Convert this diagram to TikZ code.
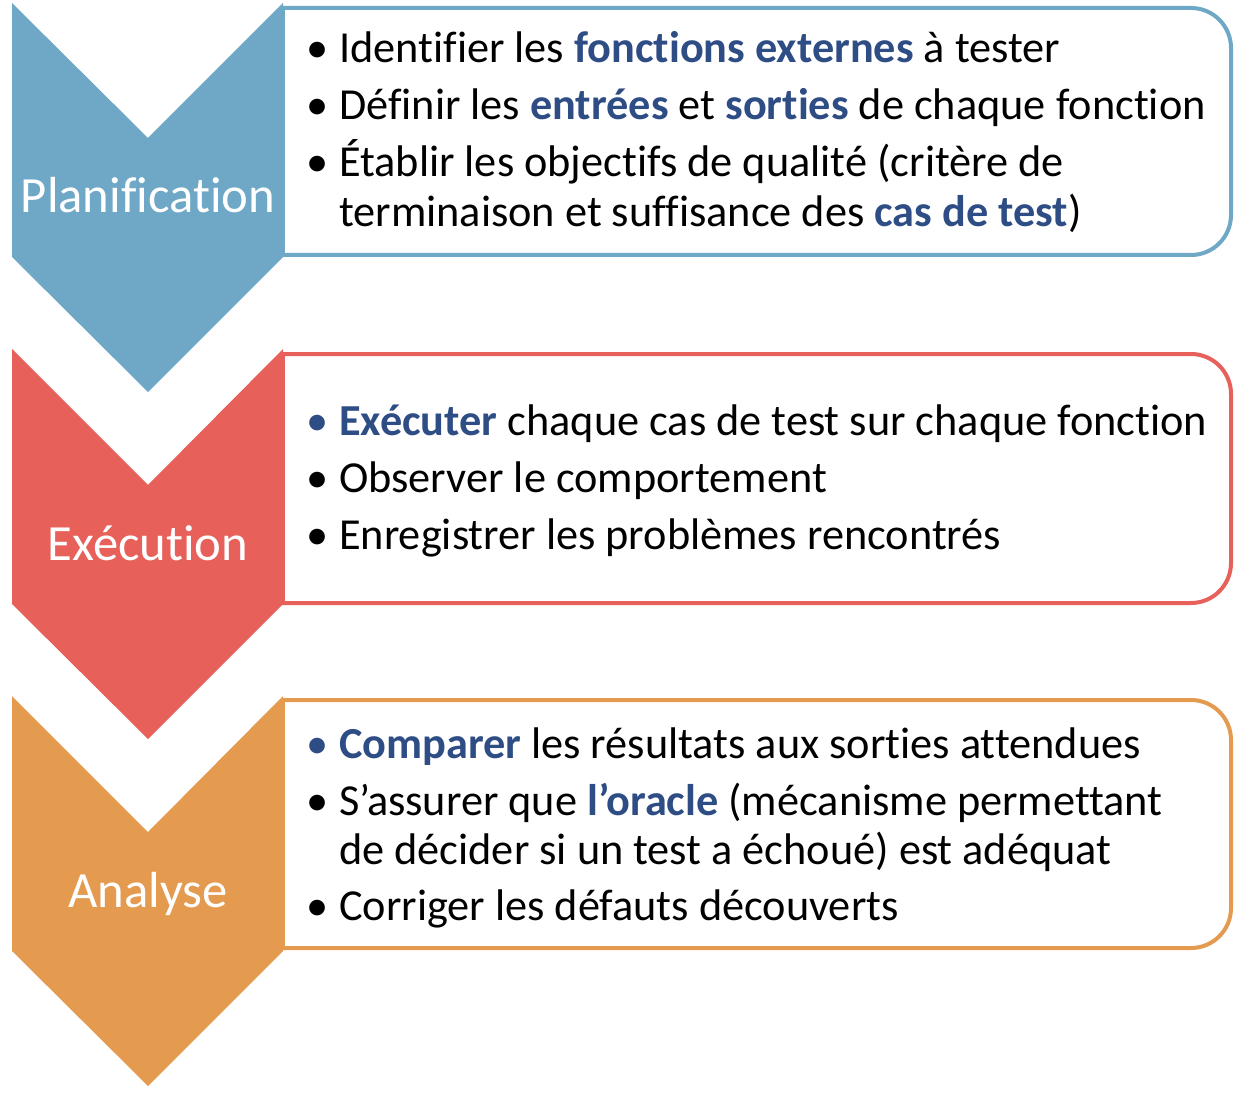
\documentclass[tikz,border=0pt]{standalone}
\usepackage{fontspec}
\setmainfont{Carlito}[Ligatures={NoCommon}]
\definecolor{cblue}{RGB}{111,168,198}
\definecolor{cred}{RGB}{232,96,90}
\definecolor{corange}{RGB}{228,155,80}
\definecolor{hl}{RGB}{47,77,133}
\newcommand{\hlt}[1]{\textbf{\textcolor{hl}{#1}}}
\tikzset{
  itemtext/.style={anchor=base west, inner sep=0pt, font=\fontsize{44.3}{53}\selectfont},
  bul/.style={anchor=base, inner sep=0pt, font=\fontsize{44.3}{53}\selectfont},
  label/.style={anchor=base, inner sep=0pt, text=white, font=\fontsize{50.7}{60}\selectfont},
  boxline/.style={line width=4pt, fill=white},
}
\begin{document}
\begin{tikzpicture}[x=1pt,y=-1pt]
\useasboundingbox (0,0) rectangle (1245,1099);
% boxes
\foreach \t/\b/\c in {8/255/cblue, 354/603/cred, 700/948/corange}{
  \begin{scope}
    \clip (281,-10) rectangle (1250,1110);
    \draw[boxline, draw=\c, rounded corners=40pt] (200,\t) rectangle (1231,\b);
  \end{scope}
  \draw[line width=4pt, draw=\c] (283,\t) -- (283,\b);
}
% chevrons
\fill[cblue] (12,3) -- (148,138) -- (283,3) -- (283,257) -- (148,392) -- (12,257) -- cycle;
\fill[cred] (12,349) -- (148,485) -- (283,349) -- (283,604) -- (148,739) -- (12,604) -- cycle;
\fill[corange] (12,696) -- (148,832) -- (283,696) -- (283,951) -- (148,1086) -- (12,951) -- cycle;
% labels
\node[label] (lp) at (148,213) {Planification};
\node[label] (le) at (148,560) {Exécution};
\node[label] (la) at (148,907) {Analyse};
% box 1
\node[bul] (b11) at (318,63) {•};
\node[itemtext] (t11) at (339,63) {Identifier les \hlt{fonctions externes} à tester};
\node[bul] (b12) at (318,120) {•};
\node[itemtext] (t12) at (339,120) {Définir les \hlt{entrées} et \hlt{sorties} de chaque fonction};
\node[bul] (b13) at (318,177) {•};
\node[itemtext] (t13) at (339,177) {Établir les objectifs de qualité (critère de};
\node[itemtext] (t14) at (339,227) {terminaison et suffisance des \hlt{cas de test})};
% box 2
\node[bul, text=hl] (b21) at (318,435) {•};
\node[itemtext] (t21) at (339,435) {\hlt{Exécuter} chaque cas de test sur chaque fonction};
\node[bul] (b22) at (318,492) {•};
\node[itemtext] (t22) at (339,492) {Observer le comportement};
\node[bul] (b23) at (318,549) {•};
\node[itemtext] (t23) at (339,549) {Enregistrer les problèmes rencontrés};
% box 3
\node[bul, text=hl] (b31) at (318,758) {•};
\node[itemtext] (t31) at (339,758) {\hlt{Comparer} les résultats aux sorties attendues};
\node[bul] (b32) at (318,815) {•};
\node[itemtext] (t32) at (339,815) {S’assurer que \hlt{l’oracle} (mécanisme permettant};
\node[itemtext] (t33) at (339,864) {de décider si un test a échoué) est adéquat};
\node[bul] (b34) at (318,920) {•};
\node[itemtext] (t34) at (339,920) {Corriger les défauts découverts};
\end{tikzpicture}
\end{document}
